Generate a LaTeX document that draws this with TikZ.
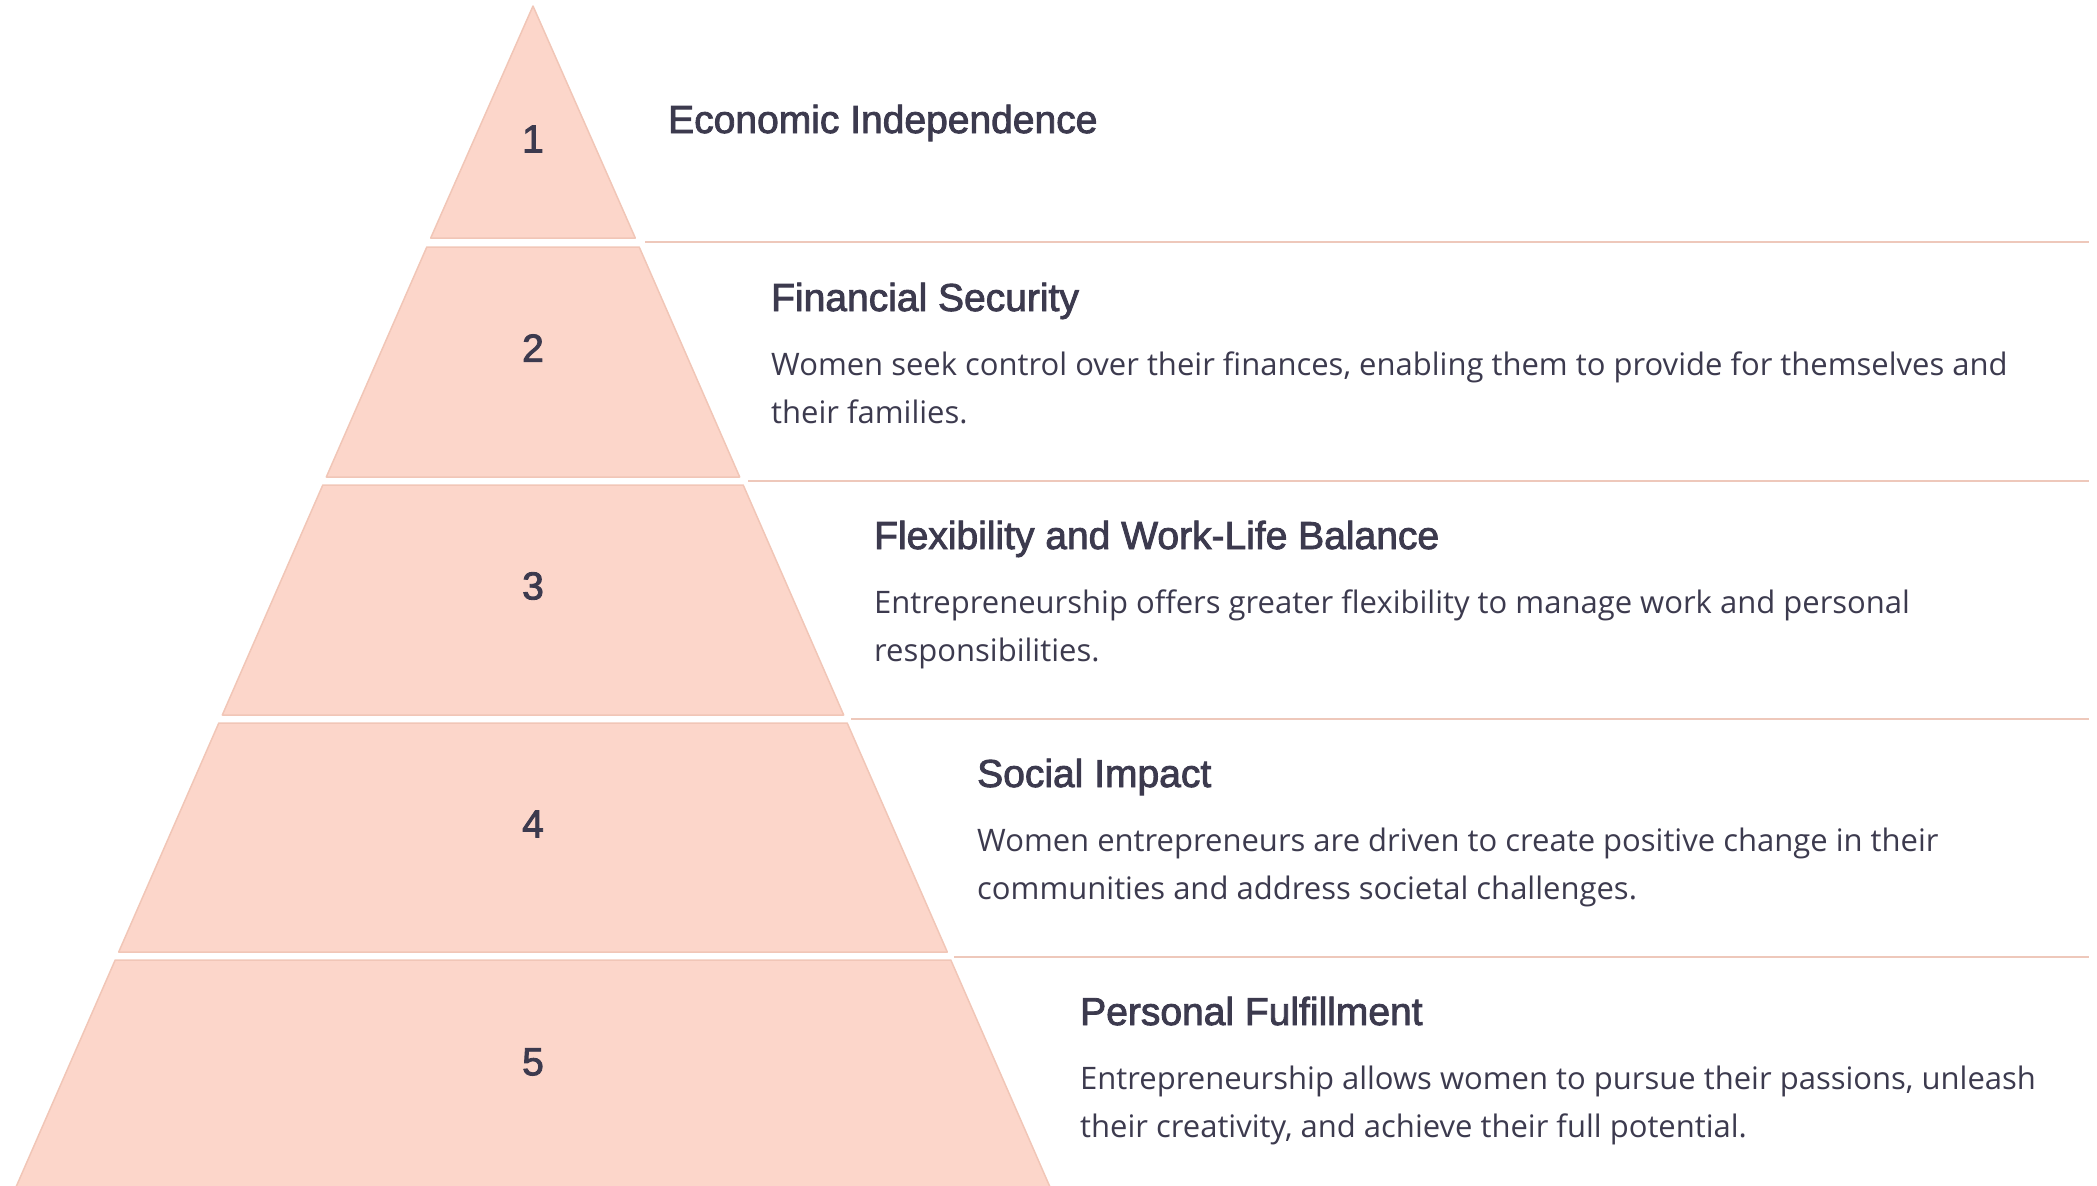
\documentclass[tikz,border=0pt]{standalone}
\usepackage{fontspec}
\newfontfamily\headfont[FakeBold=2.2]{Liberation Sans}
\newfontfamily\bodyfont{Open Sans}
\definecolor{layerfill}{HTML}{FCD6CA}
\definecolor{layeredge}{HTML}{F1C6B7}
\definecolor{rulecol}{HTML}{EEC8BB}
\definecolor{inkcol}{HTML}{3C3A4E}

\begin{document}
\begin{tikzpicture}[x=1pt, y=-1pt,
    layer/.style={fill=layerfill, draw=layeredge, line width=1.5pt, line join=round},
    divider/.style={draw=rulecol, line width=2pt},
    layernum/.style={inner sep=0pt, text=inkcol, font=\headfont\fontsize{39}{47}\selectfont},
    headtext/.style={anchor=base west, inner sep=0pt, text=inkcol, font=\headfont\fontsize{39}{47}\selectfont},
    bodytext/.style={anchor=base west, inner sep=0pt, text=inkcol, font=\bodyfont\fontsize{31}{48}\selectfont}]

        \useasboundingbox (0,0) rectangle (2097,1186);
        \clip (0,0) rectangle (2097,1186);

        \draw[layer] (533,6) -- (635.3,238) -- (430.7,238) -- cycle;
        \draw[layer] (426.8,247) -- (639.2,247) -- (739.7,477) -- (326.3,477) -- cycle;
        \draw[layer] (322.8,485) -- (743.2,485) -- (843.7,715) -- (222.3,715) -- cycle;
        \draw[layer] (218.8,723) -- (847.2,723) -- (947.3,952) -- (118.7,952) -- cycle;
        \draw[layer] (115.2,960) -- (950.8,960) -- (1051.3,1190) -- (14.7,1190) -- cycle;

        \node[layernum] (n1) at (533,139) {1};
        \node[layernum] (n2) at (533,348) {2};
        \node[layernum] (n3) at (533,586) {3};
        \node[layernum] (n4) at (533,824) {4};
        \node[layernum] (n5) at (533,1062) {5};

        \draw[divider] (645,242) -- (2089,242);
        \draw[divider] (748,481) -- (2089,481);
        \draw[divider] (851,719) -- (2089,719);
        \draw[divider] (954,957) -- (2089,957);

        \node[headtext] (h1) at (668,133) {Economic Independence};

        \node[headtext] (h2) at (771,311) {Financial Security};
        \node[bodytext] (d2) at (771,375) {\parbox[t]{1400pt}{Women seek control over their finances, enabling them to provide for themselves and\\their families.}};

        \node[headtext] (h3) at (874,549) {Flexibility and Work-Life Balance};
        \node[bodytext] (d3) at (874,613) {\parbox[t]{1400pt}{Entrepreneurship offers greater flexibility to manage work and personal\\responsibilities.}};

        \node[headtext] (h4) at (977,787) {Social Impact};
        \node[bodytext] (d4) at (977,851) {\parbox[t]{1400pt}{Women entrepreneurs are driven to create positive change in their\\communities and address societal challenges.}};

        \node[headtext] (h5) at (1080,1025) {Personal Fulfillment};
        \node[bodytext] (d5) at (1080,1089) {\parbox[t]{1400pt}{Entrepreneurship allows women to pursue their passions, unleash\\their creativity, and achieve their full potential.}};
      \end{tikzpicture}
\end{document}
